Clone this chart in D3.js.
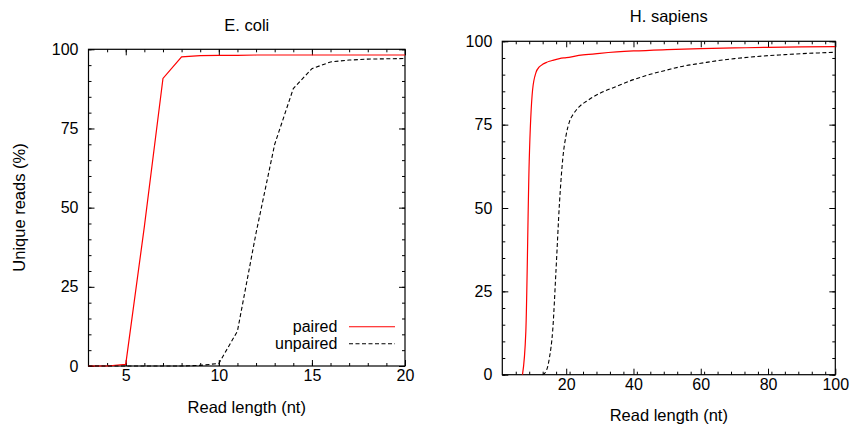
<!DOCTYPE html>
<html>
<head>
<meta charset="utf-8">
<script src="https://d3js.org/d3.v7.min.js"></script>
<style>
  body { margin: 0; background: #fff; }
  svg text { font-family: "Liberation Sans", Arial, sans-serif; fill: #000; }
</style>
</head>
<body>
<div id="chart"></div>
<script>
// E. coli panel data
var ecoliLen = [3, 4, 5, 6, 7, 8, 9, 10, 11, 12, 13, 14, 15, 16, 17, 18, 19, 20];
var ecoliPaired = [0, 0, 0.5, 44, 90.8, 97.6, 98, 98.1, 98.1, 98.2, 98.2, 98.2, 98.2, 98.2, 98.2, 98.2, 98.2, 98.2];
var ecoliUnpaired = [0, 0, 0, 0, 0, 0, 0.2, 0.8, 11, 42, 70, 87.6, 93.9, 96, 96.6, 96.9, 97, 97.1];

// H. sapiens panel data
var hsPairedLen = [7, 8, 9, 10, 11, 12, 13, 14, 15, 16, 18, 20, 25, 30, 35, 40, 50, 60, 70, 80, 90, 100];
var hsPaired = [0, 13, 64, 85.4, 90.6, 92.3, 93.1, 93.6, 94, 94.3, 94.8, 95.1, 95.9, 96.4, 96.8, 97.1, 97.5, 97.8, 98, 98.2, 98.3, 98.4];
var hsUnpairedLen = [13, 14, 15, 16, 17, 18, 19, 20, 21, 22, 23, 24, 26, 28, 30, 35, 40, 45, 50, 55, 60, 65, 70, 75, 80, 85, 90, 95, 100];
var hsUnpaired = [0, 1, 5, 13.5, 32, 51.5, 65, 72, 76, 78, 79.4, 80.5, 82, 83.3, 84.4, 86.5, 88.5, 90.1, 91.4, 92.6, 93.4, 94.2, 94.8, 95.3, 95.7, 96, 96.3, 96.5, 96.7];

var yTicks = [0, 25, 50, 75, 100];
var ecoliXTicks = [5, 10, 15, 20];
var hsXTicks = [20, 40, 60, 80, 100];

var svg = d3.select("#chart").append("svg")
    .attr("width", 853)
    .attr("height", 425);

function zip(xs, ys) {
  return xs.map(function(x, i) { return [x, ys[i]]; });
}

function panel(opt) {
  var g = svg.append("g").attr("transform", "translate(" + opt.left + "," + opt.top + ")");
  var w = opt.width, h = opt.height;

  var x = d3.scaleLinear().domain(opt.xDomain).range([0, w]);
  var y = d3.scaleLinear().domain([0, 100]).range([h, 0]);

  var xMinor = d3.range(opt.xDomain[0], opt.xDomain[1] + 0.001, opt.xMinorStep)
    .filter(function(v) { return v > opt.xDomain[0] && v < opt.xDomain[1]; });
  var yMinor = d3.range(0, 100.001, 5);

  // minor ticks, all four sides, pointing in
  function minor(axis, tr) {
    g.append("g").attr("transform", tr).call(axis.tickFormat("").tickSize(-3))
      .call(function(s) { s.select(".domain").remove(); s.selectAll("line").attr("stroke", "#000"); });
  }
  minor(d3.axisBottom(x).tickValues(xMinor), "translate(0," + h + ")");
  minor(d3.axisTop(x).tickValues(xMinor), "translate(0,0)");
  minor(d3.axisLeft(y).tickValues(yMinor), "translate(0,0)");
  minor(d3.axisRight(y).tickValues(yMinor), "translate(" + w + ",0)");

  // major ticks with labels
  var xa = g.append("g").attr("transform", "translate(0," + h + ")")
    .call(d3.axisBottom(x).tickValues(opt.xTicks).tickSize(-6).tickPadding(11).tickFormat(d3.format("d")));
  var ya = g.append("g")
    .call(d3.axisLeft(y).tickValues(yTicks).tickSize(-6).tickPadding(10).tickFormat(d3.format("d")));
  g.append("g").attr("transform", "translate(0,0)")
    .call(d3.axisTop(x).tickValues(opt.xTicks).tickSize(-6).tickFormat(""));
  g.append("g").attr("transform", "translate(" + w + ",0)")
    .call(d3.axisRight(y).tickValues(yTicks).tickSize(-6).tickFormat(""));
  g.selectAll(".domain").remove();
  g.selectAll(".tick line").attr("stroke", "#000");
  g.selectAll(".tick text").attr("font-size", 16).style("font-family", "'Liberation Sans', Arial, sans-serif");
  xa.selectAll(".tick text").attr("dy", "0.3em").attr("y", 10.5);

  // frame
  g.append("rect").attr("width", w).attr("height", h)
    .attr("fill", "none").attr("stroke", "#000").attr("stroke-width", 1.2);

  var line = d3.line()
    .x(function(d) { return x(d[0]); })
    .y(function(d) { return y(d[1]); })
    .curve(opt.curve);

  g.append("path").datum(zip(opt.pairedLen, opt.paired))
    .attr("fill", "none").attr("stroke", "#ff0000").attr("stroke-width", 1.2)
    .attr("d", line);
  g.append("path").datum(zip(opt.unpairedLen, opt.unpaired))
    .attr("fill", "none").attr("stroke", "#000").attr("stroke-width", 1.1)
    .attr("stroke-dasharray", "4,2.5")
    .attr("d", line);

  // title and axis titles
  svg.append("text").attr("x", opt.left + w / 2).attr("y", opt.titleY)
    .attr("text-anchor", "middle").attr("font-size", 16.5).text(opt.title);
  svg.append("text").attr("x", opt.left + w / 2).attr("y", opt.xLabelY)
    .attr("text-anchor", "middle").attr("font-size", 16.5).text("Read length (nt)");

  return g;
}

var left = panel({
  left: 88.5, top: 49.3, width: 316.5, height: 316.7,
  xDomain: [3, 20], xTicks: ecoliXTicks, xMinorStep: 1,
  pairedLen: ecoliLen, paired: ecoliPaired,
  unpairedLen: ecoliLen, unpaired: ecoliUnpaired,
  curve: d3.curveLinear,
  title: "E. coli", titleY: 30.5, xLabelY: 412.5
});

panel({
  left: 502.3, top: 41.3, width: 333, height: 333.4,
  xDomain: [1, 100], xTicks: hsXTicks, xMinorStep: 4,
  pairedLen: hsPairedLen, paired: hsPaired,
  unpairedLen: hsUnpairedLen, unpaired: hsUnpaired,
  curve: d3.curveMonotoneX,
  title: "H. sapiens", titleY: 21.5, xLabelY: 420.5
});

// y axis title (left panel only)
svg.append("text")
  .attr("transform", "translate(25,207.5) rotate(-90)")
  .attr("text-anchor", "middle").attr("font-size", 16.5)
  .text("Unique reads (%)");

// legend
var legend = [
  {name: "paired", color: "#ff0000", dash: null, y: 277.4},
  {name: "unpaired", color: "#000", dash: "4,2.5", y: 294.4}
];
legend.forEach(function(d) {
  left.append("text").attr("x", 248.8).attr("y", d.y + 5.5)
    .attr("text-anchor", "end").attr("font-size", 16).text(d.name);
  left.append("line").attr("x1", 260.5).attr("x2", 306.5)
    .attr("y1", d.y).attr("y2", d.y)
    .attr("stroke", d.color).attr("stroke-width", 1.1)
    .attr("stroke-dasharray", d.dash);
});
</script>
</body>
</html>
